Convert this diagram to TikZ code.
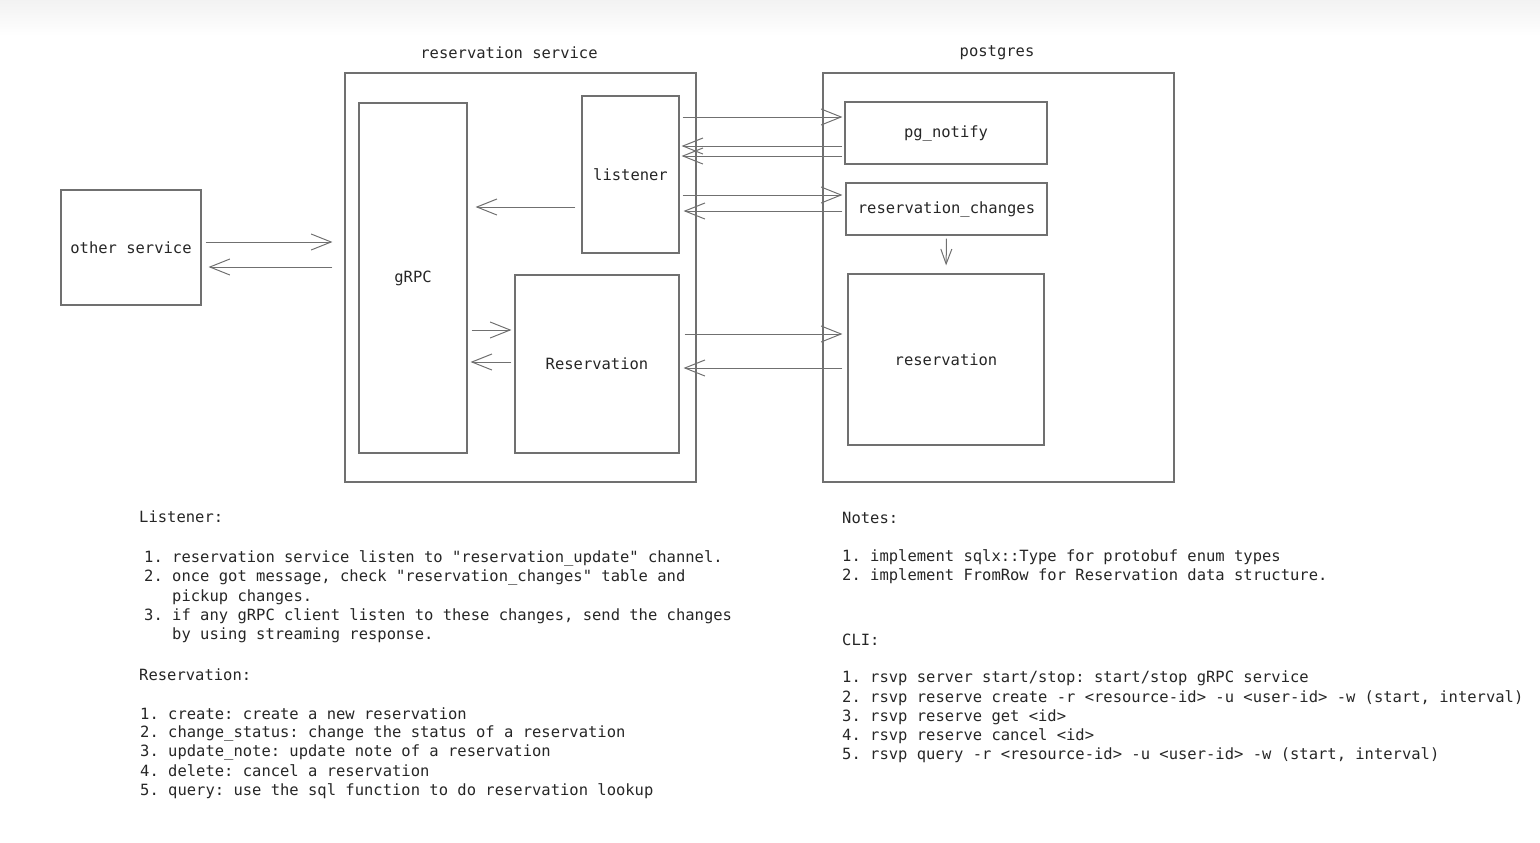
\documentclass[tikz,border=0pt]{standalone}
\usepackage{fontspec}
\newfontfamily\codefont{DejaVu Sans Mono}
\usetikzlibrary{arrows.meta}
\definecolor{linegray}{HTML}{707070}
\definecolor{inkgray}{HTML}{262626}

\begin{document}
\frenchspacing
\begin{tikzpicture}[x=1pt,y=-1pt,
    box/.style={draw=linegray, line width=1.1pt, rectangle, inner sep=0pt},
    lbl/.style={font=\codefont\fontsize{15.5}{18}\selectfont, text=inkgray},
    txt/.style={lbl, anchor=west, inner sep=0pt},
    arr/.style={draw=linegray, line width=1pt, -{Straight Barb[length=20pt,width=16pt]}},
    smallarr/.style={draw=linegray, line width=1pt, -{Straight Barb[length=15pt,width=11pt]}}]
  \useasboundingbox (0,0) rectangle (1540,843);
  \shade[top color=black!5, bottom color=white] (0,0) rectangle (1540,36);

  % outer boxes
  \node[box, minimum width=351, minimum height=409] (svc) at (520.5,277.5) {};
  \node[box, minimum width=351, minimum height=409] (pg) at (998.5,277.5) {};
  \node[lbl] (svctitle) at (509,53) {reservation service};
  \node[lbl] (pgtitle) at (997,53) {postgres};

  % components
  \node[box, lbl, minimum width=140, minimum height=115] (other) at (131,247.5) {other service};
  \node[box, lbl, minimum width=108, minimum height=350] (grpc) at (413,278) {gRPC};
  \node[box, lbl, minimum width=97, minimum height=157] (listener) at (630.5,174.5) {listener};
  \node[box, lbl, minimum width=164, minimum height=178] (resv) at (597,364) {Reservation};
  \node[box, lbl, minimum width=202, minimum height=62] (notify) at (946,133) {pg\_notify};
  \node[box, lbl, minimum width=201, minimum height=52] (changes) at (946.5,209) {reservation\_changes};
  \node[box, lbl, minimum width=196, minimum height=171] (table) at (946,359.5) {reservation};

  % connectors
  \draw[arr, shorten <=4pt, shorten >=12pt] (other.east |- 0,242) -- (svc.west |- 0,242);
  \draw[arr, shorten <=12pt, shorten >=7pt] (svc.west |- 0,267) -- (other.east |- 0,267);
  \draw[arr, shorten <=6pt, shorten >=8pt] (listener.west |- 0,207) -- (grpc.east |- 0,207);
  \draw[arr, shorten <=4pt, shorten >=3pt] (grpc.east |- 0,330) -- (resv.west |- 0,330);
  \draw[arr, shorten <=3pt, shorten >=3pt] (resv.west |- 0,362) -- (grpc.east |- 0,362);
  \draw[arr, shorten <=3pt, shorten >=2pt] (listener.east |- 0,117) -- (notify.west |- 0,117);
  \draw[arr, shorten <=2pt, shorten >=2pt] (notify.west |- 0,146) -- (listener.east |- 0,146);
  \draw[arr, shorten <=2pt, shorten >=2pt] (notify.west |- 0,156) -- (listener.east |- 0,156);
  \draw[arr, shorten <=3pt, shorten >=3pt] (listener.east |- 0,195) -- (changes.west |- 0,195);
  \draw[arr, shorten <=3pt, shorten >=4pt] (changes.west |- 0,211) -- (listener.east |- 0,211);
  \draw[smallarr, shorten <=3pt, shorten >=8pt] (changes.south) -- (table.north);
  \draw[arr, shorten <=5pt, shorten >=5pt] (resv.east |- 0,334) -- (table.west |- 0,334);
  \draw[arr, shorten <=5pt, shorten >=4pt] (table.west |- 0,368) -- (resv.east |- 0,368);

  % notes below
  \node[txt] (lshead) at (139,517) {Listener:};
  \foreach \n/\x/\y/\t in {
      1/144/558/{1. reservation service listen to "reservation\_update" channel.},
      2/144/577/{2. once got message, check "reservation\_changes" table and},
      3/172/597/{pickup changes.},
      4/144/616/{3. if any gRPC client listen to these changes, send the changes},
      5/172/635/{by using streaming response.}}
    \node[txt] (ls\n) at (\x,\y) {\t};

  \node[txt] (rvhead) at (139,675) {Reservation:};
  \foreach \n/\y/\t in {
      1/714/{1. create: create a new reservation},
      2/733/{2. change\_status: change the status of a reservation},
      3/752/{3. update\_note: update note of a reservation},
      4/771/{4. delete: cancel a reservation},
      5/791/{5. query: use the sql function to do reservation lookup}}
    \node[txt] (rv\n) at (140,\y) {\t};

  \node[txt] (nthead) at (842,518) {Notes:};
  \node[txt] (nt1) at (842,557) {1. implement sqlx::Type for protobuf enum types};
  \node[txt] (nt2) at (842,576) {2. implement FromRow for Reservation data structure.};

  \node[txt] (clihead) at (842,640) {CLI:};
  \foreach \n/\y/\t in {
      1/678/{1. rsvp server start/stop: start/stop gRPC service},
      2/698/{2. rsvp reserve create -r <resource-id> -u <user-id> -w (start, interval)},
      3/717/{3. rsvp reserve get <id>},
      4/736/{4. rsvp reserve cancel <id>},
      5/755/{5. rsvp query -r <resource-id> -u <user-id> -w (start, interval)}}
    \node[txt] (cli\n) at (842,\y) {\t};
\end{tikzpicture}
\end{document}
